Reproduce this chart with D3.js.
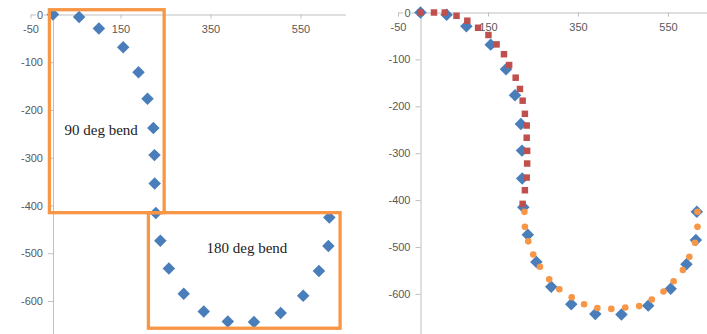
<!DOCTYPE html>
<html>
<head>
<meta charset="utf-8">
<script src="https://cdn.jsdelivr.net/npm/d3@7"></script>
<style>
    body { margin: 0; background: #fff; }
    svg { display: block; }
    .axis text { font-family: "Liberation Sans", Arial, sans-serif; font-size: 11px; fill: #595959; }
    .axis path, .axis line { stroke: #bfbfbf; }
    .note { font-family: "Liberation Serif", "Times New Roman", serif; font-size: 15px; fill: #222; }
</style>
</head>
<body>
<svg id="chart" width="707" height="334"></svg>
<script>
// pipe centre line (same shape in both panels)
const bendX = [0, 58, 102, 156, 190, 210, 223, 225.5, 226, 228.5, 238.5, 257.5, 290.5, 335, 388.5, 446.5, 506, 556, 591, 612, 614];
const bendY = [0, -5, -29.5, -68.5, -121, -176.5, -237.5, -294.5, -354, -415.5, -474, -532, -585, -622, -643, -644, -625, -589, -537, -485, -425];

// 90 deg bend model (red squares)
const bend90X = [0, 30, 54, 80, 104, 128, 151, 169, 185.5, 197, 211.5, 221, 227, 232, 236, 236, 237, 237, 236, 232, 227];
const bend90Y = [0, 0, 0, -7, -17.5, -32.5, -48, -68, -89, -112, -139, -163, -188, -216, -241, -267, -295, -322, -352, -379, -408];

// 180 deg bend model (orange circles)
const bend180X = [231, 232, 239.5, 250.5, 265.5, 286, 308.5, 336, 363.5, 393, 424, 455, 486, 514, 540, 562.5, 583, 597.5, 610, 615.5, 615.5];
const bend180Y = [-425, -457, -488, -516, -542, -569, -590, -607, -622, -630, -632, -629, -626, -612, -595, -573, -549, -521, -491, -457, -425];

const xTicks = [-50, 150, 350, 550];
const yTicks = [0, -100, -200, -300, -400, -500, -600];

// annotation boxes on the left panel, in data units
const boxLabels = ['90 deg bend', '180 deg bend'];
const boxX0 = [-8, 212];
const boxX1 = [247, 638];
const boxY0 = [10, -415];
const boxY1 = [-415, -657];
const labelX = [107, 431];
const labelY = [-252, -500];

const svg = d3.select('#chart');

function toPoints(xs, ys) {
    return xs.map((x, i) => ({x: x, y: ys[i]}));
}

function drawPanel(xRange, yRange) {
    const g = svg.append('g');
    const x = d3.scaleLinear().domain([-50, 650]).range(xRange);
    const y = d3.scaleLinear().domain([0, -700]).range(yRange);

    const xAxis = d3.axisBottom(x)
        .tickValues(xTicks)
        .tickSizeInner(4)
        .tickSizeOuter(0)
        .tickPadding(7)
        .tickFormat(d => String(d));
    g.append('g')
        .attr('class', 'axis')
        .attr('transform', `translate(0, ${y(0)})`)
        .call(xAxis);

    const yAxis = d3.axisLeft(y)
        .tickValues(yTicks)
        .tickSizeInner(5)
        .tickSizeOuter(0)
        .tickPadding(5)
        .tickFormat(d => String(d));
    const yg = g.append('g')
        .attr('class', 'axis')
        .attr('transform', `translate(${x(0)}, 0)`)
        .call(yAxis);
    // labels sit on a white box, as in the spreadsheet
    yg.selectAll('.tick').each(function() {
        const t = d3.select(this).select('text');
        const b = t.node().getBBox();
        d3.select(this).insert('rect', 'text')
            .attr('x', b.x - 1).attr('y', b.y)
            .attr('width', b.width + 2).attr('height', b.height)
            .attr('fill', '#fff');
    });
    return {g, x, y};
}

function diamonds(p, pts) {
    p.g.append('g').selectAll('path')
        .data(pts)
        .enter()
        .append('path')
        .attr('d', d3.symbol(d3.symbolSquare, 78))
        .attr('transform', d => `translate(${p.x(d.x)}, ${p.y(d.y)}) rotate(45)`)
        .attr('fill', '#4a7ebb');
}

// left panel
const left = drawPanel([30.5, 345.5], [14.5, 14.5 + 700 * 0.4775]);
diamonds(left, toPoints(bendX, bendY));

left.g.append('g').selectAll('rect')
    .data(boxLabels)
    .enter()
    .append('rect')
    .attr('x', (d, i) => left.x(boxX0[i]))
    .attr('y', (d, i) => left.y(boxY0[i]))
    .attr('width', (d, i) => left.x(boxX1[i]) - left.x(boxX0[i]))
    .attr('height', (d, i) => left.y(boxY1[i]) - left.y(boxY0[i]))
    .attr('fill', 'none')
    .attr('stroke', '#f79646')
    .attr('stroke-width', 3.3);

left.g.append('g').selectAll('text')
    .data(boxLabels)
    .enter()
    .append('text')
    .attr('class', 'note')
    .attr('x', (d, i) => left.x(labelX[i]))
    .attr('y', (d, i) => left.y(labelY[i]))
    .attr('text-anchor', 'middle')
    .text(d => d);

// right panel
const right = drawPanel([398, 713], [12.5, 12.5 + 700 * 0.469]);
diamonds(right, toPoints(bendX, bendY));

right.g.append('g').selectAll('path')
    .data(toPoints(bend90X, bend90Y))
    .enter()
    .append('path')
    .attr('d', d3.symbol(d3.symbolSquare, 42))
    .attr('transform', d => `translate(${right.x(d.x)}, ${right.y(d.y)})`)
    .attr('fill', '#c0504d');

right.g.append('g').selectAll('circle')
    .data(toPoints(bend180X, bend180Y))
    .enter()
    .append('circle')
    .attr('cx', d => right.x(d.x))
    .attr('cy', d => right.y(d.y))
    .attr('r', 3.3)
    .attr('fill', '#f79646');
</script>
</body>
</html>
